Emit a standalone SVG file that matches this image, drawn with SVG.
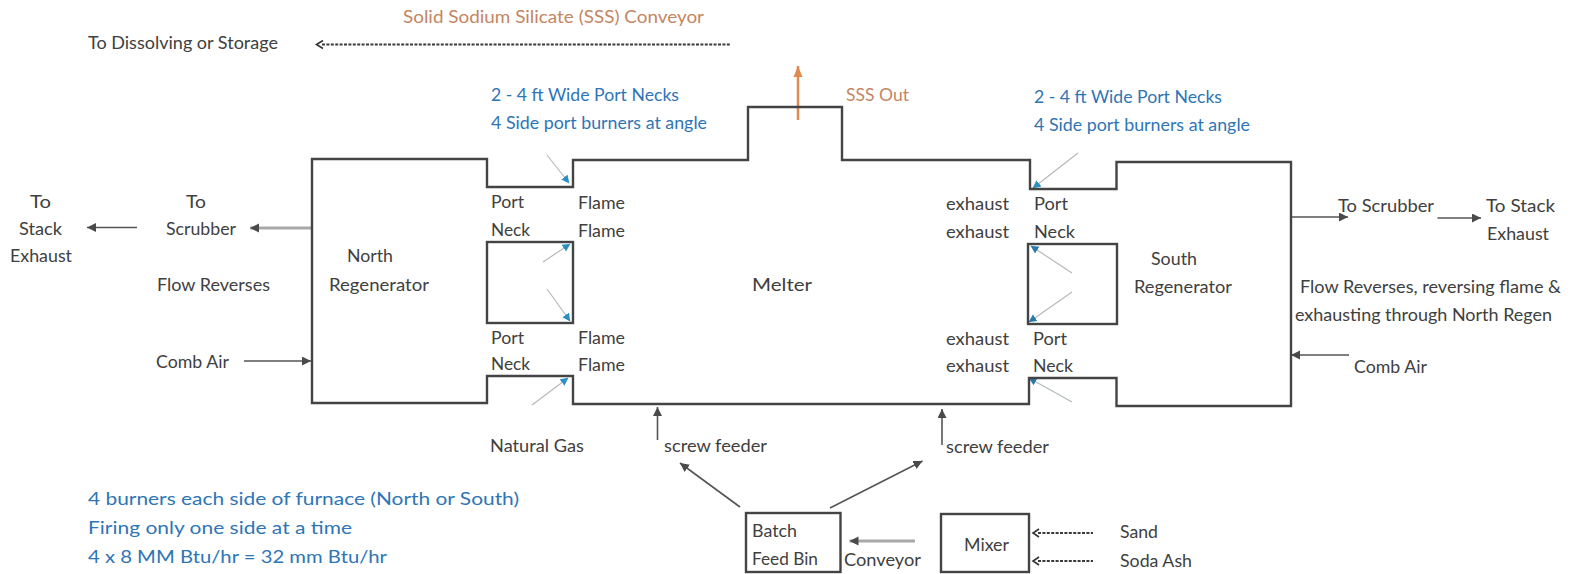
<svg xmlns="http://www.w3.org/2000/svg" width="1570" height="574" viewBox="0 0 1570 574">
<style>
text{font-family:"Lato","Open Sans","Liberation Sans",sans-serif;font-size:17.5px;fill:#404040}
.b{fill:#2e75b6}
.o{fill:#c58562}
.wall{fill:none;stroke:#444;stroke-width:2.4}
.c{fill:none;stroke:#555;stroke-width:1.6}
.thick{stroke:#a8a8a8;stroke-width:3}
.burn{fill:none;stroke:#b4b9bc;stroke-width:1.2}
.dash{fill:none;stroke:#3a3a3a;stroke-width:2;stroke-dasharray:3 1.4}
.chev{fill:none;stroke:#333;stroke-width:1.6}
</style>
<defs>
<marker id="ah" markerWidth="11" markerHeight="10" refX="9" refY="4.500" orient="auto" markerUnits="userSpaceOnUse"><path d="M0 0L9 4.500L0 9Z" fill="#4a4a4a"/></marker>
<marker id="ao" markerWidth="13" markerHeight="11" refX="11" refY="5" orient="auto" markerUnits="userSpaceOnUse"><path d="M0 0.500L11 5L0 9.500Z" fill="#e08a50"/></marker>
<marker id="bl" markerWidth="9" markerHeight="9" refX="7.500" refY="4" orient="auto" markerUnits="userSpaceOnUse"><path d="M0 0L8 4L0 8Z" fill="#2b8fc4"/></marker>
<marker id="bd" markerWidth="9" markerHeight="9" refX="7.500" refY="4" orient="auto" markerUnits="userSpaceOnUse"><path d="M0 0L8 4L0 8Z" fill="#2a7aa8"/></marker>
</defs>

<g id="connectors">
<path class="dash" d="M322 44.500H730"/><path class="chev" d="M323 40.500L316.500 44.500L323 48.500"/>
<path class="dash" d="M1038 533H1093"/><path class="chev" d="M1039 529L1033 533L1039 537"/>
<path class="dash" d="M1038 561H1093"/><path class="chev" d="M1039 557L1033 561L1039 565"/>
<path class="c" d="M137 227.500H87" marker-end="url(#ah)"/>
<path class="c thick" d="M312 228H250" marker-end="url(#ah)"/>
<path class="c" d="M244 361H311" marker-end="url(#ah)"/>
<path class="c" d="M657.500 440V407" marker-end="url(#ah)"/>
<path class="c" d="M942 445V409" marker-end="url(#ah)"/>
<path class="c" d="M740 507L680 463" marker-end="url(#ah)"/>
<path class="c" d="M830 508L922.500 461" marker-end="url(#ah)"/>
<path class="c thick" d="M915 541H849.500" marker-end="url(#ah)"/>
<path class="c" d="M1291 217H1348" marker-end="url(#ah)"/>
<path class="c" d="M1437.500 218H1481" marker-end="url(#ah)"/>
<path class="c" d="M1349 355H1291" marker-end="url(#ah)"/>
<path fill="none" stroke="#e08a50" stroke-width="2.500" d="M798 120V66" marker-end="url(#ao)"/>
<path class="burn" d="M547 155L569 183" marker-end="url(#bl)"/>
<path class="burn" d="M543 262L570 244" marker-end="url(#bl)"/>
<path class="burn" d="M547 289L570 321" marker-end="url(#bl)"/>
<path class="burn" d="M532 405L568 378" marker-end="url(#bl)"/>
<path class="burn" d="M1078 153L1033 188" marker-end="url(#bl)"/>
<path class="burn" d="M1072 273L1031 246" marker-end="url(#bd)"/>
<path class="burn" d="M1072 292L1029 322" marker-end="url(#bd)"/>
<path class="burn" d="M1072 402L1029 378" marker-end="url(#bd)"/>
</g>

<g id="furnace-outline"><path class="wall" d="M312 159H487V187H573V160H748V107H842V160H1030V189H1116.500V162H1291V406H1116.500V378H1029V404H573V376H487V403H312Z"/></g>
<g id="north-port-wall"><rect class="wall" x="487" y="242" width="86" height="81"/></g>
<g id="south-port-wall"><rect class="wall" x="1028" y="244" width="89" height="80"/></g>
<g id="batch-feed-bin"><rect class="wall" x="746" y="513" width="94.500" height="59"/>
<text x="752" y="537" textLength="45" lengthAdjust="spacingAndGlyphs">Batch</text>
<text x="752" y="565" textLength="66" lengthAdjust="spacingAndGlyphs">Feed Bin</text></g>
<g id="mixer"><rect class="wall" x="941" y="514" width="88" height="58"/>
<text x="964" y="551" textLength="45" lengthAdjust="spacingAndGlyphs">Mixer</text></g>
<g id="melter"><text x="752" y="291" textLength="60" lengthAdjust="spacingAndGlyphs">Melter</text></g>
<g id="north-regenerator"><text x="347" y="262" textLength="46" lengthAdjust="spacingAndGlyphs">North</text>
<text x="329" y="291" textLength="100" lengthAdjust="spacingAndGlyphs">Regenerator</text></g>
<g id="south-regenerator"><text x="1151" y="265" textLength="46" lengthAdjust="spacingAndGlyphs">South</text>
<text x="1134" y="293" textLength="98" lengthAdjust="spacingAndGlyphs">Regenerator</text></g>

<g id="labels">
<text class="o" x="403" y="23" textLength="301" lengthAdjust="spacingAndGlyphs">Solid Sodium Silicate (SSS) Conveyor</text>
<text x="88" y="49" textLength="190" lengthAdjust="spacingAndGlyphs">To Dissolving or Storage</text>
<text class="o" x="846" y="101" textLength="63" lengthAdjust="spacingAndGlyphs">SSS Out</text>
<text class="b" x="491" y="101" textLength="188" lengthAdjust="spacingAndGlyphs">2 - 4 ft Wide Port Necks</text>
<text class="b" x="491" y="129" textLength="216" lengthAdjust="spacingAndGlyphs">4 Side port burners at angle</text>
<text class="b" x="1034" y="103" textLength="188" lengthAdjust="spacingAndGlyphs">2 - 4 ft Wide Port Necks</text>
<text class="b" x="1034" y="131" textLength="216" lengthAdjust="spacingAndGlyphs">4 Side port burners at angle</text>
<text x="30" y="208" textLength="21" lengthAdjust="spacingAndGlyphs">To</text>
<text x="19" y="235" textLength="43" lengthAdjust="spacingAndGlyphs">Stack</text>
<text x="10" y="262" textLength="62" lengthAdjust="spacingAndGlyphs">Exhaust</text>
<text x="186" y="208" textLength="20" lengthAdjust="spacingAndGlyphs">To</text>
<text x="166" y="235" textLength="70" lengthAdjust="spacingAndGlyphs">Scrubber</text>
<text x="157" y="291" textLength="113" lengthAdjust="spacingAndGlyphs">Flow Reverses</text>
<text x="156" y="368" textLength="73" lengthAdjust="spacingAndGlyphs">Comb Air</text>
<text x="491" y="208" textLength="33" lengthAdjust="spacingAndGlyphs">Port</text>
<text x="491" y="236" textLength="39" lengthAdjust="spacingAndGlyphs">Neck</text>
<text x="491" y="344" textLength="33" lengthAdjust="spacingAndGlyphs">Port</text>
<text x="491" y="370" textLength="39" lengthAdjust="spacingAndGlyphs">Neck</text>
<text x="578" y="209" textLength="47" lengthAdjust="spacingAndGlyphs">Flame</text>
<text x="578" y="237" textLength="47" lengthAdjust="spacingAndGlyphs">Flame</text>
<text x="578" y="344" textLength="47" lengthAdjust="spacingAndGlyphs">Flame</text>
<text x="578" y="371" textLength="47" lengthAdjust="spacingAndGlyphs">Flame</text>
<text x="946" y="210" textLength="63" lengthAdjust="spacingAndGlyphs">exhaust</text>
<text x="946" y="238" textLength="63" lengthAdjust="spacingAndGlyphs">exhaust</text>
<text x="946" y="345" textLength="63" lengthAdjust="spacingAndGlyphs">exhaust</text>
<text x="946" y="372" textLength="63" lengthAdjust="spacingAndGlyphs">exhaust</text>
<text x="1034" y="210" textLength="34" lengthAdjust="spacingAndGlyphs">Port</text>
<text x="1034" y="238" textLength="41" lengthAdjust="spacingAndGlyphs">Neck</text>
<text x="1033" y="345" textLength="34" lengthAdjust="spacingAndGlyphs">Port</text>
<text x="1033" y="372" textLength="40" lengthAdjust="spacingAndGlyphs">Neck</text>
<text x="1338" y="212" textLength="96" lengthAdjust="spacingAndGlyphs">To Scrubber</text>
<text x="1486" y="212" textLength="69" lengthAdjust="spacingAndGlyphs">To Stack</text>
<text x="1487" y="240" textLength="62" lengthAdjust="spacingAndGlyphs">Exhaust</text>
<text x="1300" y="293" textLength="261" lengthAdjust="spacingAndGlyphs">Flow Reverses, reversing flame &amp;</text>
<text x="1295" y="321" textLength="257" lengthAdjust="spacingAndGlyphs">exhausting through North Regen</text>
<text x="1354" y="373" textLength="73" lengthAdjust="spacingAndGlyphs">Comb Air</text>
<text x="490" y="452" textLength="94" lengthAdjust="spacingAndGlyphs">Natural Gas</text>
<text x="664" y="452" textLength="103" lengthAdjust="spacingAndGlyphs">screw feeder</text>
<text x="946" y="453" textLength="103" lengthAdjust="spacingAndGlyphs">screw feeder</text>
<text class="b" x="88" y="505" textLength="431" lengthAdjust="spacingAndGlyphs">4 burners each side of furnace (North or South)</text>
<text class="b" x="88" y="534" textLength="264" lengthAdjust="spacingAndGlyphs">Firing only one side at a time</text>
<text class="b" x="88" y="563" textLength="299" lengthAdjust="spacingAndGlyphs">4 x 8 MM Btu/hr = 32 mm Btu/hr</text>
<text x="844" y="566" textLength="77" lengthAdjust="spacingAndGlyphs">Conveyor</text>
<text x="1120" y="538" textLength="38" lengthAdjust="spacingAndGlyphs">Sand</text>
<text x="1120" y="567" textLength="72" lengthAdjust="spacingAndGlyphs">Soda Ash</text>
</g>
</svg>
